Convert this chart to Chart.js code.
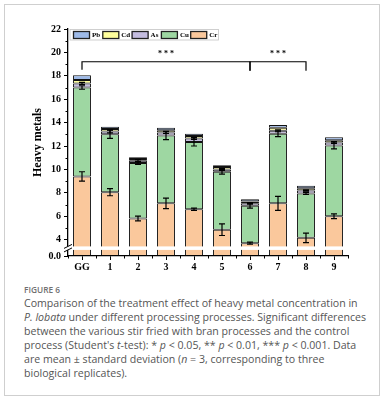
<!DOCTYPE html>
<html><head><meta charset="utf-8">
<script src="https://cdn.jsdelivr.net/npm/chart.js@4/dist/chart.umd.min.js"></script>
<style>
html,body{margin:0;padding:0;background:#fff;width:382px;height:402px;overflow:hidden}
#frame{position:absolute;left:4px;top:4px;width:374px;height:390px;border:1px solid #cfcfcf}
#wrap{position:absolute;left:0;top:0;width:382px;height:280px}
#fig{position:absolute;left:24px;top:284px;font:600 8.3px "Open Sans","Noto Sans",sans-serif;color:#707070;line-height:12px}
#cap{position:absolute;left:24px;top:296px;width:350px;font:10.6px "Open Sans","Noto Sans",sans-serif;color:#555;line-height:14px;white-space:nowrap}
</style></head><body>
<div id="frame"></div>
<div id="wrap"><canvas id="c" width="382" height="280"></canvas></div>
<div id="fig">FIGURE 6</div>
<div id="cap">Comparison of the treatment effect of heavy metal concentration in<br><i>P. lobata</i> under different processing processes. Significant differences<br>between the various stir fried with bran processes and the control<br>process (Student's <i>t</i>-test): * <i>p</i> &lt; 0.05, ** <i>p</i> &lt; 0.01, *** <i>p</i> &lt; 0.001. Data<br>are mean &#177; standard deviation (<i>n</i> = 3, corresponding to three<br>biological replicates).</div>
<script>
const categories = ['GG','1','2','3','4','5','6','7','8','9'];
const cr = [9.4, 8.05, 5.8, 7.1, 6.6, 4.85, 3.7, 7.1, 4.15, 6.0];
const cu = [7.6, 4.95, 4.75, 5.8, 5.75, 4.95, 3.2, 5.95, 3.8, 6.05];
const as = [0.35, 0.25, 0.2, 0.25, 0.3, 0.2, 0.2, 0.25, 0.25, 0.25];
const cd = [0.3, 0.2, 0.15, 0.2, 0.2, 0.2, 0.15, 0.25, 0.2, 0.2];
const pb = [0.4, 0.2, 0.15, 0.2, 0.2, 0.15, 0.2, 0.25, 0.2, 0.25];
const crErr = [0.4, 0.3, 0.2, 0.45, 0.1, 0.5, 0.08, 0.6, 0.4, 0.2];
const cuErr = [0.15, 0.35, 0.12, 0.35, 0.35, 0.2, 0.2, 0.25, 0.08, 0.3];
const asErr = [0.08, 0.12, 0.08, 0.08, 0.08, 0.08, 0.06, 0.08, 0.05, 0.08];
const yTicks = [2.6, 4, 6, 8, 10, 12, 14, 16, 18, 20, 22];
const yMinor = [5, 7, 9, 11, 13, 15, 17, 19, 21];
const brackets = [[0, 6], [6, 8]];
const bracketLabel = '* * *';
const bracketY = 19.2;
const breakRange = [3.12, 3.42];

const serif = '"Liberation Serif","Times New Roman",serif';
const ds = (label, data, color) => ({label, data, backgroundColor: color, borderColor: '#111', borderWidth: 1, borderSkipped: false, barPercentage: 0.64, categoryPercentage: 1});

const extras = {
  id: 'extras',
  afterDatasetsDraw(chart) {
    const ctx = chart.ctx, y = chart.scales.y;
    const meta0 = chart.getDatasetMeta(0);
    ctx.save();
    ctx.strokeStyle = '#000'; ctx.lineWidth = 1.2;
    const eb = (x, v, e) => {
      const t = y.getPixelForValue(v + e), b = y.getPixelForValue(v - e);
      ctx.beginPath();
      ctx.moveTo(x, t); ctx.lineTo(x, b);
      ctx.moveTo(x - 3, t); ctx.lineTo(x + 3, t);
      ctx.moveTo(x - 3, b); ctx.lineTo(x + 3, b);
      ctx.stroke();
    };
    categories.forEach((c, i) => {
      const x = meta0.data[i].x;
      eb(x, cr[i], crErr[i]);
      eb(x, cr[i] + cu[i], cuErr[i]);
      eb(x, cr[i] + cu[i] + as[i], asErr[i]);
    });
    ctx.restore();
  },
  afterDraw(chart) {
    const ctx = chart.ctx, y = chart.scales.y, x = chart.scales.x, a = chart.chartArea;
    const meta0 = chart.getDatasetMeta(0);
    ctx.save();
    // minor ticks
    ctx.strokeStyle = '#000'; ctx.lineWidth = 1;
    ctx.beginPath();
    yMinor.forEach(v => { const p = Math.round(y.getPixelForValue(v)) + 0.5; ctx.moveTo(a.left, p); ctx.lineTo(a.left - 2.5, p); });
    for (let i = 0; i <= categories.length; i++) {
      const p = Math.round(x.getPixelForValue(i - 0.5)) + 0.5;
      ctx.moveTo(p, a.bottom); ctx.lineTo(p, a.bottom + 2.5);
    }
    ctx.stroke();
    // axis break
    const b1 = y.getPixelForValue(breakRange[1]), b0 = y.getPixelForValue(breakRange[0]);
    ctx.fillStyle = '#fff';
    ctx.fillRect(a.left - 6, b1, a.right - a.left + 8, b0 - b1);
    ctx.beginPath();
    ctx.moveTo(a.left - 4, b1 + 2); ctx.lineTo(a.left + 4, b1 - 2);
    ctx.moveTo(a.left - 4, b0 + 2); ctx.lineTo(a.left + 4, b0 - 2);
    ctx.stroke();
    // significance brackets
    const by = y.getPixelForValue(bracketY);
    ctx.lineWidth = 1.2;
    brackets.forEach(([i0, i1], k) => {
      const x0 = meta0.data[i0].x, x1 = meta0.data[i1].x;
      ctx.beginPath();
      ctx.moveTo(x0, by + (k === 0 ? 8 : 9)); ctx.lineTo(x0, by); ctx.lineTo(x1, by); ctx.lineTo(x1, by + 9);
      ctx.stroke();
      ctx.fillStyle = '#000';
      ctx.font = 'bold 8px ' + serif;
      ctx.textAlign = 'center'; ctx.textBaseline = 'middle';
      ctx.fillText(bracketLabel, (x0 + x1) / 2, by - 7.5);
    });
    // legend
    const lx = a.left + 3, ly = a.top + 1;
    const items = chart.data.datasets.slice().reverse();
    ctx.font = 'bold 7px ' + serif;
    ctx.textAlign = 'left'; ctx.textBaseline = 'middle';
    items.forEach((d, k) => {
      const cx = lx + 2 + k * 29.3;
      ctx.fillStyle = d.backgroundColor;
      ctx.fillRect(cx, ly + 1.5, 17, 7);
      ctx.strokeStyle = '#222'; ctx.lineWidth = 1.3;
      ctx.strokeRect(cx + 0.5, ly + 1.5, 16, 7);
      ctx.fillStyle = '#000';
      ctx.fillText(d.label, cx + 19, ly + 5.5);
    });
    ctx.strokeStyle = '#c4c4c4'; ctx.lineWidth = 0.8;
    ctx.strokeRect(lx - 1, ly - 0.5, 148.5, 10.5);
    ctx.restore();
  }
};

new Chart(document.getElementById('c'), {
  type: 'bar',
  data: {
    labels: categories,
    datasets: [
      ds('Cr', cr, '#FAC89C'),
      ds('Cu', cu, '#9ED7A2'),
      ds('As', as, '#C4BCE0'),
      ds('Cd', cd, '#FFFF9C'),
      ds('Pb', pb, '#9EBAE8')
    ]
  },
  options: {
    responsive: false, animation: false,
    layout: {padding: {left: 28, top: 29, right: 34, bottom: 4}},
    plugins: {legend: {display: false}, tooltip: {enabled: false}},
    scales: {
      x: {
        stacked: true, offset: true,
        grid: {display: true, drawOnChartArea: false, offset: false, tickLength: 4, color: '#000', tickWidth: 1},
        border: {display: true, color: '#000', width: 1.3, z: 1},
        ticks: {color: '#000', font: {family: serif, weight: 'bold', size: 10}, padding: 1},
        afterFit: s => { s.height = 20; }
      },
      y: {
        stacked: true, min: 2.6, max: 22,
        afterBuildTicks: s => { s.ticks = yTicks.map(v => ({value: v})); },
        grid: {display: true, drawOnChartArea: false, tickLength: 4, color: '#000', tickWidth: 1},
        border: {display: true, color: '#000', width: 1.3, z: 1},
        ticks: {color: '#000', font: {family: serif, weight: 'bold', size: 10}, padding: 3,
          callback: v => v === 2.6 ? '0.0' : String(v)},
        title: {display: true, text: 'Heavy metals', color: '#000', font: {family: serif, weight: 'bold', size: 12}, padding: {top: 3, bottom: 0}},
        afterFit: s => { s.width = 40; }
      }
    }
  },
  plugins: [extras]
});
</script>
</body></html>
